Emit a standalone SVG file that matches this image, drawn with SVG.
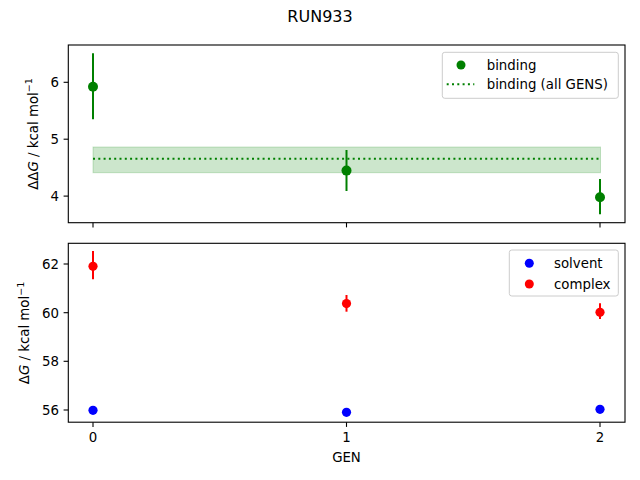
<svg xmlns="http://www.w3.org/2000/svg" width="640" height="480" viewBox="0 0 640 480">
<style>
text{font-family:"DejaVu Sans","Liberation Sans",sans-serif;fill:#000}
.tick{font-size:13.33px}
.lab{font-size:13.33px}
.axis{fill:none;stroke:#000;stroke-width:1.1}
.tk{stroke:#000;stroke-width:1.1}
.leg{fill:#fff;fill-opacity:0.8;stroke:#cccccc;stroke-width:1}
.err{stroke-width:2}
</style>
<rect width="640" height="480" fill="#fff"/>
<text x="320" y="21.7" text-anchor="middle" style="font-size:16px">RUN933</text>

<g id="top-axes">
  <rect id="band" x="93" y="147" width="507.5" height="25.7" fill="#008000" fill-opacity="0.2" stroke="#008000" stroke-opacity="0.2"/>
  <line x1="93" y1="158.7" x2="600.5" y2="158.7" stroke="#008000" stroke-width="2" stroke-dasharray="2 3.3"/>
  <g id="binding-points" fill="#008000" stroke="#008000">
    <line class="err" x1="93" y1="53.3" x2="93" y2="119.3"/>
    <circle cx="93" cy="86.7" r="5" stroke="none"/>
    <line class="err" x1="346.5" y1="150" x2="346.5" y2="191"/>
    <circle cx="346.5" cy="170.6" r="5" stroke="none"/>
    <line class="err" x1="600" y1="179" x2="600" y2="214.3"/>
    <circle cx="600" cy="197.3" r="5" stroke="none"/>
  </g>
  <rect class="axis" x="68.3" y="45" width="556.7" height="177.7"/>
  <g class="tk">
    <line x1="93" y1="222.7" x2="93" y2="227.4"/>
    <line x1="346.5" y1="222.7" x2="346.5" y2="227.4"/>
    <line x1="600" y1="222.7" x2="600" y2="227.4"/>
    <line x1="68.3" y1="82.3" x2="63.6" y2="82.3"/>
    <line x1="68.3" y1="139.2" x2="63.6" y2="139.2"/>
    <line x1="68.3" y1="196.1" x2="63.6" y2="196.1"/>
  </g>
  <g class="tick" text-anchor="end">
    <text x="59" y="87.1">6</text>
    <text x="59" y="144">5</text>
    <text x="59" y="200.9">4</text>
  </g>
  <text class="lab" transform="translate(37.5 134) rotate(-90)" text-anchor="middle">ΔΔ<tspan font-style="italic">G</tspan> / kcal mol<tspan font-size="9.5px" dy="-5.5">−1</tspan></text>
  <g id="legend-top">
    <rect class="leg" x="442.3" y="52.3" width="176" height="46" rx="2.5"/>
    <circle cx="461" cy="65" r="4.5" fill="#008000"/>
    <text class="lab" x="486.7" y="69.7">binding</text>
    <line x1="446.7" y1="84.3" x2="474.3" y2="84.3" stroke="#008000" stroke-width="2" stroke-dasharray="2 3.3"/>
    <text class="lab" x="486.7" y="89">binding (all GENS)</text>
  </g>
</g>

<g id="bottom-axes">
  <g id="complex-points" fill="#ff0000" stroke="#ff0000">
    <line class="err" x1="93" y1="251" x2="93" y2="279.3"/>
    <circle cx="93" cy="266.3" r="4.6" stroke="none"/>
    <line class="err" x1="346.5" y1="295" x2="346.5" y2="311.7"/>
    <circle cx="346.5" cy="303.6" r="4.6" stroke="none"/>
    <line class="err" x1="600" y1="303.3" x2="600" y2="319"/>
    <circle cx="600" cy="312.3" r="4.6" stroke="none"/>
  </g>
  <g id="solvent-points" fill="#0000ff">
    <circle cx="93" cy="410.3" r="4.6"/>
    <circle cx="346.5" cy="412.3" r="4.6"/>
    <circle cx="600" cy="409.3" r="4.6"/>
  </g>
  <rect class="axis" x="68.3" y="243.3" width="556.7" height="178.9"/>
  <g class="tk">
    <line x1="93" y1="422.2" x2="93" y2="426.9"/>
    <line x1="346.5" y1="422.2" x2="346.5" y2="426.9"/>
    <line x1="600" y1="422.2" x2="600" y2="426.9"/>
    <line x1="68.3" y1="264" x2="63.6" y2="264"/>
    <line x1="68.3" y1="312.7" x2="63.6" y2="312.7"/>
    <line x1="68.3" y1="361.3" x2="63.6" y2="361.3"/>
    <line x1="68.3" y1="410" x2="63.6" y2="410"/>
  </g>
  <g class="tick" text-anchor="end">
    <text x="59" y="268.8">62</text>
    <text x="59" y="317.5">60</text>
    <text x="59" y="366.1">58</text>
    <text x="59" y="414.8">56</text>
  </g>
  <g class="tick" text-anchor="middle">
    <text x="93" y="442">0</text>
    <text x="346.5" y="442">1</text>
    <text x="600" y="442">2</text>
  </g>
  <text class="lab" x="346.5" y="462" text-anchor="middle">GEN</text>
  <text class="lab" transform="translate(29 333) rotate(-90)" text-anchor="middle">Δ<tspan font-style="italic">G</tspan> / kcal mol<tspan font-size="9.5px" dy="-5.5">−1</tspan></text>
  <g id="legend-bottom">
    <rect class="leg" x="509.3" y="250" width="109" height="46" rx="2.5"/>
    <circle cx="529.3" cy="263.3" r="4.5" fill="#0000ff"/>
    <text class="lab" x="554" y="268">solvent</text>
    <circle cx="529.3" cy="284" r="4.5" fill="#ff0000"/>
    <text class="lab" x="554" y="288.7">complex</text>
  </g>
</g>
</svg>
